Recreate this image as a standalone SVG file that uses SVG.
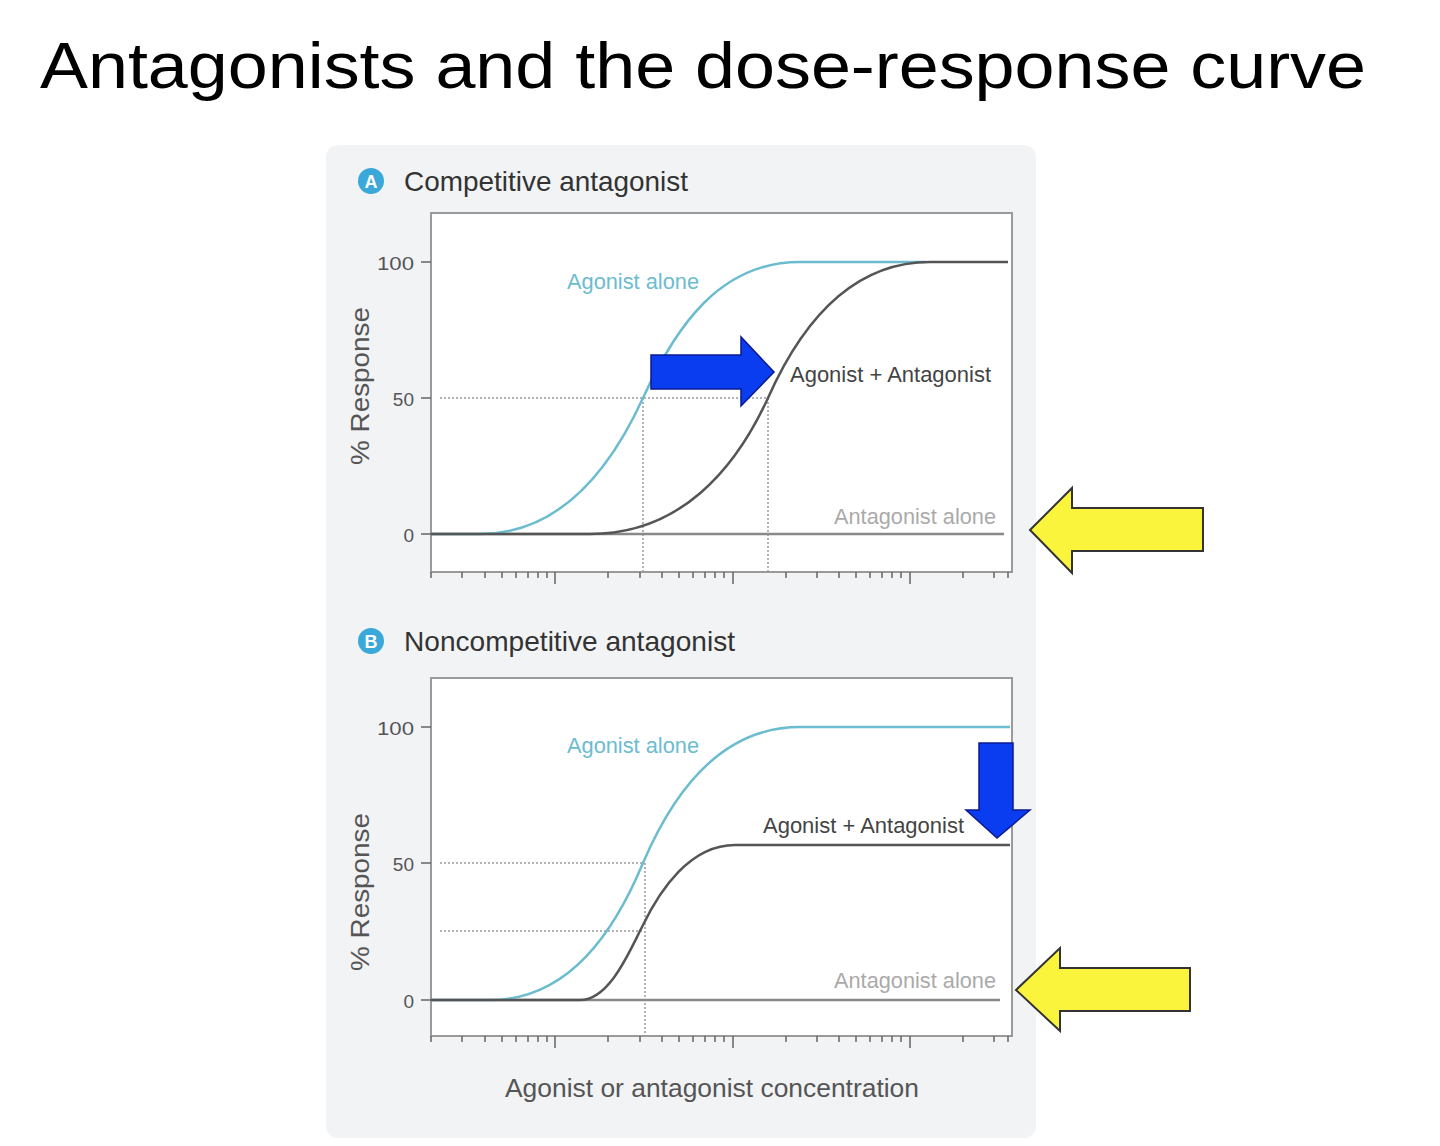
<svg xmlns="http://www.w3.org/2000/svg" width="1440" height="1146" viewBox="0 0 1440 1146">
<style>
text{font-family:"Liberation Sans",Arial,sans-serif}
.box{fill:#fff;stroke:#9a9a9a;stroke-width:2}
.ax{stroke:#666;stroke-width:1.5;fill:none}
.cy{stroke:#6cbcd0;stroke-width:2.5;fill:none}
.dk{stroke:#555;stroke-width:2.5;fill:none}
.base{stroke:#888;stroke-width:2.5}
.dot{stroke:#999;stroke-width:1.5;stroke-dasharray:2 2;fill:none}
.num{font-size:19px;fill:#555;text-anchor:end}
.yl{font-size:26px;fill:#555}
.lc{font-size:22px;fill:#6cbcd0}
.ld{font-size:22px;fill:#444}
.lg{font-size:22px;fill:#aaa}
.hd{font-size:28px;fill:#333}
.blue{fill:#0a3cf0;stroke:#0a1a90;stroke-width:1.5}
.yel{fill:#fbf43c;stroke:#333;stroke-width:2}
</style>
<defs>
<g id="ticks" class="ax">
<path d="M431,572v6M462,572v6M485,572v6M502,572v6M516,572v6M528,572v6M538,572v6M547,572v6M555,572v12M608,572v6M640,572v6M662,572v6M679,572v6M693,572v6M705,572v6M715,572v6M724,572v6M733,572v12M786,572v6M817,572v6M839,572v6M856,572v6M870,572v6M882,572v6M892,572v6M901,572v6M910,572v12M963,572v6M994,572v6M1008,572v6"/>
</g>
</defs>
<text x="40" y="88" font-size="64" fill="#000" textLength="1326" lengthAdjust="spacingAndGlyphs">Antagonists and the dose-response curve</text>
<rect x="326" y="145" width="710" height="993" rx="12" fill="#f2f3f5"/>

<g id="panelA">
<circle cx="371" cy="181" r="13" fill="#3aa8d8"/>
<text x="371" y="188" font-size="18" fill="#fff" text-anchor="middle" font-weight="bold">A</text>
<text class="hd" x="404" y="191" textLength="284" lengthAdjust="spacingAndGlyphs">Competitive antagonist</text>
<rect class="box" x="431" y="213" width="581" height="359"/>
<path class="ax" d="M421,262h10M421,398h10M421,534h10"/>
<text class="num" x="414" y="270" textLength="37" lengthAdjust="spacingAndGlyphs">100</text>
<text class="num" x="414" y="406">50</text>
<text class="num" x="414" y="542">0</text>
<text class="yl" transform="translate(369,386) rotate(-90)" text-anchor="middle" textLength="158" lengthAdjust="spacingAndGlyphs">% Response</text>
<use href="#ticks"/>
<path class="dot" d="M440,398H768M643,398V572M768,398V572"/>
<line class="base" x1="431" y1="534" x2="1004" y2="534"/>
<path class="cy" d="M431,534L480,534C560,534 610,470 643,398C676,326 720,262 800,262L925,262"/>
<path class="dk" d="M431,534L590,534C680,534 735,470 768,398C800,326 850,262 930,262L1008,262"/>
<text class="lc" x="567" y="289" textLength="132" lengthAdjust="spacingAndGlyphs">Agonist alone</text>
<text class="ld" x="790" y="382" textLength="201" lengthAdjust="spacingAndGlyphs">Agonist + Antagonist</text>
<text class="lg" x="834" y="524" textLength="162" lengthAdjust="spacingAndGlyphs">Antagonist alone</text>
</g>

<g id="panelB">
<circle cx="371" cy="641" r="13" fill="#3aa8d8"/>
<text x="371" y="648" font-size="18" fill="#fff" text-anchor="middle" font-weight="bold">B</text>
<text class="hd" x="404" y="651" textLength="331" lengthAdjust="spacingAndGlyphs">Noncompetitive antagonist</text>
<rect class="box" x="431" y="678" width="581" height="358"/>
<path class="ax" d="M421,727h10M421,863h10M421,1000h10"/>
<text class="num" x="414" y="735" textLength="37" lengthAdjust="spacingAndGlyphs">100</text>
<text class="num" x="414" y="871">50</text>
<text class="num" x="414" y="1008">0</text>
<text class="yl" transform="translate(369,892) rotate(-90)" text-anchor="middle" textLength="158" lengthAdjust="spacingAndGlyphs">% Response</text>
<use href="#ticks" transform="translate(0,464)"/>
<path class="dot" d="M440,863H643M440,931H643M645,863V1036"/>
<line class="base" x1="431" y1="1000" x2="1000" y2="1000"/>
<path class="cy" d="M431,1000L490,1000C570,1000 615,930 643,863C672,795 720,727 800,727L1010,727"/>
<path class="dk" d="M431,1000L580,1000C610,1000 630,950 643,925C660,890 690,845 735,845L1010,845"/>
<text class="lc" x="567" y="753" textLength="132" lengthAdjust="spacingAndGlyphs">Agonist alone</text>
<text class="ld" x="763" y="833" textLength="201" lengthAdjust="spacingAndGlyphs">Agonist + Antagonist</text>
<text class="lg" x="834" y="988" textLength="162" lengthAdjust="spacingAndGlyphs">Antagonist alone</text>
<text class="yl" x="505" y="1097" textLength="414" lengthAdjust="spacingAndGlyphs">Agonist or antagonist concentration</text>
</g>

<g id="arrows">
<polygon class="blue" points="651,355 741,355 741,337 774,372 741,406 741,389 651,389"/>
<polygon class="blue" points="979,743 1013,743 1013,810 1030,810 997,838 966,810 979,810"/>
<polygon class="yel" points="1030,530 1072,488 1072,508 1203,508 1203,551 1072,551 1072,573"/>
<polygon class="yel" points="1016,990 1060,948 1060,968 1190,968 1190,1011 1060,1011 1060,1031"/>
</g>
</svg>
